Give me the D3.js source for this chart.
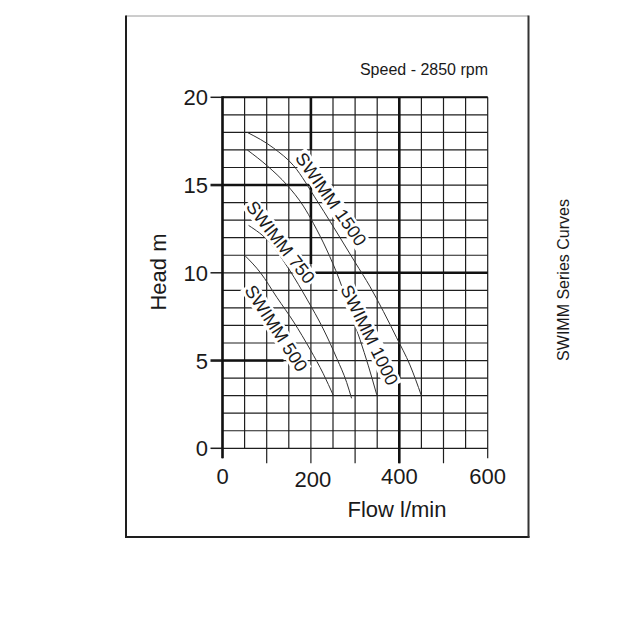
<!DOCTYPE html>
<html><head><meta charset="utf-8">
<script src="https://cdn.jsdelivr.net/npm/d3@7"></script>
<style>html,body{margin:0;padding:0;background:#fff}svg{display:block}</style>
</head><body><svg id="c" width="640" height="640"></svg>
<script>
// ---- data ----
const seriesNames = ["SWIMM 500", "SWIMM 750", "SWIMM 1000", "SWIMM 1500"];
const flow500  = [52, 86, 123, 161, 199, 228, 251];
const head500  = [10.95, 10.0, 8.6, 7.2, 5.6, 4.25, 3.0];
const flow750  = [59, 108, 153, 191, 228, 259, 281, 292];
const head750  = [12.7, 11.7, 10.1, 8.5, 6.8, 5.1, 3.75, 2.85];
const flow1000 = [56, 101, 146, 183, 206, 236, 263, 292, 311, 330, 349];
const head1000 = [17.0, 16.1, 15.0, 13.8, 12.8, 11.3, 9.7, 7.6, 6.2, 4.7, 3.05];
const flow1500 = [56, 116, 161, 214, 244, 266, 300, 334, 364, 394, 424, 450];
const head1500 = [18.0, 17.1, 16.1, 14.1, 12.9, 12.0, 10.6, 9.2, 7.8, 6.3, 4.75, 3.0];
const labelFlow = [121, 131, 332, 245];
const labelHead = [6.83, 11.73, 6.45, 14.19];
const labelAngle = [57, 52, 64, 55];
const flowTicks = [0, 200, 400, 600];
const headTicks = [0, 5, 10, 15, 20];
const titleText = "Speed - 2850 rpm";
const xTitle = "Flow l/min";
const yTitle = "Head m";
const sideTitle = "SWIMM Series Curves";

const flows = [flow500, flow750, flow1000, flow1500];
const heads = [head500, head750, head1000, head1500];

// ---- drawing ----
const FONT = "'Liberation Sans', Arial, sans-serif";
const svg = d3.select("#c");
const x = d3.scaleLinear().domain([0, 600]).range([222.5, 487.7]);
const y = d3.scaleLinear().domain([0, 20]).range([448.3, 97.3]);
const ink = "#1e1e1e";

// frame
const frame = svg.append("g");
frame.append("line").attr("x1",126).attr("y1",16).attr("x2",528.5).attr("y2",16).attr("stroke","#9a9a9a").attr("stroke-width",1);
frame.append("line").attr("x1",126).attr("y1",15.5).attr("x2",126).attr("y2",537.5).attr("stroke",ink).attr("stroke-width",2);
frame.append("line").attr("x1",125).attr("y1",537).attr("x2",529.5).attr("y2",537).attr("stroke",ink).attr("stroke-width",2);
frame.append("line").attr("x1",528.5).attr("y1",15.5).attr("x2",528.5).attr("y2",537.5).attr("stroke","#333").attr("stroke-width",2);

// thin grid
const grid = svg.append("g").attr("stroke", ink).attr("stroke-width", 1.2);
d3.range(0, 601, 50).forEach(f => {
  let ext = 0;
  if (f % 100 === 0) ext = 15;
  if (f === 0 || f === 600) ext = 10;
  grid.append("line").attr("x1", x(f)).attr("x2", x(f)).attr("y1", y(20)).attr("y2", y(0) + ext);
});
d3.range(0, 21, 1).forEach(h => {
  grid.append("line").attr("x1", x(0)).attr("x2", x(600)).attr("y1", y(h)).attr("y2", y(h));
});
// y ticks
headTicks.forEach(h => {
  grid.append("line").attr("x1", x(0) - 12).attr("x2", x(0)).attr("y1", y(h)).attr("y2", y(h))
    .attr("stroke-width", (h === 5 || h === 15) ? 2.6 : 1.5);
});

// bold segments
const bold = svg.append("g").attr("stroke", "#111").attr("stroke-width", 2.6);
bold.append("line").attr("x1", x(0)).attr("x2", x(0)).attr("y1", y(20) - 1).attr("y2", y(0) + 10);
bold.append("line").attr("x1", x(400)).attr("x2", x(400)).attr("y1", y(20)).attr("y2", y(0) + 15);
bold.append("line").attr("x1", x(200)).attr("x2", x(200)).attr("y1", y(20)).attr("y2", y(17));
bold.append("line").attr("x1", x(200)).attr("x2", x(200)).attr("y1", y(15)).attr("y2", y(10.5));
bold.append("line").attr("x1", x(0)).attr("x2", x(200)).attr("y1", y(15)).attr("y2", y(15));
bold.append("line").attr("x1", x(210)).attr("x2", x(600)).attr("y1", y(10)).attr("y2", y(10));
bold.append("line").attr("x1", x(0)).attr("x2", x(138)).attr("y1", y(5)).attr("y2", y(5));
bold.append("line").attr("x1", x(0)).attr("x2", x(600)).attr("y1", y(20)).attr("y2", y(20)).attr("stroke-width", 2);

// label knock-out boxes
const labG = seriesNames.map((name, i) =>
  svg.append("g").attr("transform", `translate(${x(labelFlow[i])},${y(labelHead[i])}) rotate(${labelAngle[i]})`));
const labTexts = labG.map((g, i) => g.append("text")
  .attr("text-anchor", "middle").attr("dominant-baseline", "central")
  .attr("font-family", FONT).attr("font-size", 18).attr("fill", "#1a1a1a")
  .text(seriesNames[i]));
labTexts.forEach((t, i) => {
  const b = t.node().getBBox();
  labG[i].insert("rect", "text").attr("x", b.x - 2).attr("y", b.y + 1).attr("width", b.width + 4).attr("height", b.height - 2).attr("fill", "#fff");
});

// curves
const line = d3.line().x(d => x(d[0])).y(d => y(d[1])).curve(d3.curveMonotoneX);
const curveG = svg.append("g");
flows.forEach((fl, i) => {
  const pts = fl.map((f, j) => [f, heads[i][j]]);
  curveG.append("path").attr("d", line(pts)).attr("fill", "none").attr("stroke", "#333").attr("stroke-width", 1);
});
// raise label text above curves
labG.forEach(g => g.raise());

// tick labels
const tl = svg.append("g").attr("font-family", FONT).attr("font-size", 22).attr("fill", "#1a1a1a");
headTicks.forEach(h => {
  tl.append("text").attr("x", 208).attr("y", y(h) + 8).attr("text-anchor", "end").text(String(h));
});
flowTicks.forEach(f => {
  tl.append("text").attr("x", x(f) + (f === 200 ? 2 : 0)).attr("y", f === 200 ? 487 : 483.5)
    .attr("text-anchor", "middle").text(String(f));
});

// titles
svg.append("text").attr("x", 488).attr("y", 75).attr("text-anchor", "end")
  .attr("font-family", FONT).attr("font-size", 16).attr("fill", "#1a1a1a").text(titleText);
svg.append("text").attr("x", 397).attr("y", 517).attr("text-anchor", "middle")
  .attr("font-family", FONT).attr("font-size", 22).attr("fill", "#1a1a1a").text(xTitle);
svg.append("text").attr("transform", "translate(166,272) rotate(-90)").attr("text-anchor", "middle")
  .attr("font-family", FONT).attr("font-size", 22).attr("fill", "#1a1a1a").text(yTitle);
svg.append("text").attr("transform", "translate(569,280) rotate(-90)").attr("text-anchor", "middle")
  .attr("font-family", FONT).attr("font-size", 16).attr("fill", "#1a1a1a").text(sideTitle);
</script></body></html>
